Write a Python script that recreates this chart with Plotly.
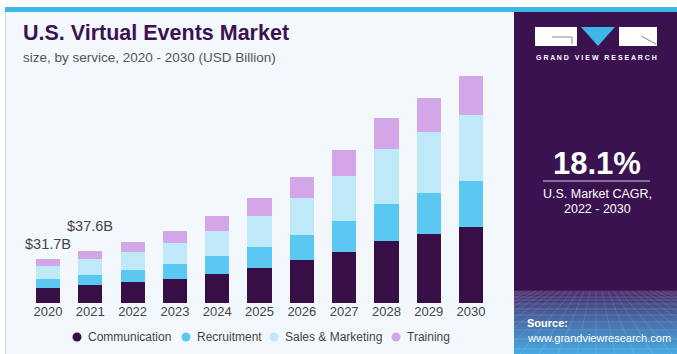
import plotly.graph_objects as go

# U.S. virtual events market size by service, USD billion
years = ["2020", "2021", "2022", "2023", "2024", "2025",
         "2026", "2027", "2028", "2029", "2030"]
communication = [10.9, 12.8, 15.0, 17.6, 21.0, 25.6, 30.9, 37.2, 44.9, 50.0, 54.9]
recruitment = [6.3, 7.2, 8.7, 10.4, 13.0, 15.2, 18.3, 22.2, 27.0, 29.9, 33.3]
sales_marketing = [9.6, 11.6, 13.3, 15.2, 18.3, 22.5, 27.0, 32.6, 39.9, 44.0, 48.3]
training = [4.9, 6.0, 7.2, 8.9, 10.9, 13.0, 15.2, 18.6, 22.5, 24.9, 27.8]

series_names = ["Communication", "Recruitment", "Sales & Marketing", "Training"]
series_values = [communication, recruitment, sales_marketing, training]
series_colors = ["#380e47", "#5ac8f2", "#bde9f8", "#d3a6e8"]

labelled_years = ["2020", "2021"]
cagr_text = "18.1%"

W, H = 677, 354
FONT = "Liberation Sans, Arial, sans-serif"


def px(x):
    return x / W


def py(y):
    return 1 - y / H


fig = go.Figure()

for name, vals, col in zip(series_names, series_values, series_colors):
    fig.add_trace(go.Bar(
        x=years, y=vals, name=name, marker=dict(color=col, line=dict(width=0)),
        showlegend=False, hoverinfo="x+y+name",
    ))

shapes = []
annotations = []

# page frame: light card, top stripe, left border
shapes.append(dict(type="rect", xref="paper", yref="paper", x0=px(5), x1=px(677),
                   y0=py(354), y1=py(7), fillcolor="#f3f8fc", line=dict(width=0), layer="below"))
shapes.append(dict(type="rect", xref="paper", yref="paper", x0=px(5), x1=px(6.2),
                   y0=py(354), y1=py(7), fillcolor="#d6dde3", line=dict(width=0), layer="below"))
shapes.append(dict(type="rect", xref="paper", yref="paper", x0=px(5), x1=px(677),
                   y0=py(12), y1=py(7), fillcolor="#3db7e8", line=dict(width=0), layer="below"))

# right side panel
shapes.append(dict(type="rect", xref="paper", yref="paper", x0=px(514), x1=px(677),
                   y0=py(354), y1=py(12), fillcolor="#3b1250", line=dict(width=0), layer="below"))

# gradient band at the bottom of the panel
top_c = (0x45, 0x22, 0x62)
bot_c = (0x48, 0xa8, 0xe0)
y_start, y_end = 290, 354
n = y_end - y_start
for i in range(n):
    t = i / (n - 1)
    t = t ** 0.8
    c = tuple(int(round(a + (b - a) * t)) for a, b in zip(top_c, bot_c))
    shapes.append(dict(type="rect", xref="paper", yref="paper", x0=px(514), x1=px(677),
                       y0=py(y_start + i + 1.2), y1=py(y_start + i),
                       fillcolor="rgb(%d,%d,%d)" % c, line=dict(width=0), layer="below"))

# perspective grid lines
grid_rows = [292, 294, 297, 300, 304, 309, 315, 322, 330, 339, 349]
for gy in grid_rows:
    shapes.append(dict(type="line", xref="paper", yref="paper", x0=px(514), x1=px(677),
                       y0=py(gy), y1=py(gy), line=dict(color="rgba(255,255,255,0.14)", width=1),
                       layer="below"))
vx = 596
for k in range(-14, 15):
    shapes.append(dict(type="line", xref="paper", yref="paper",
                       x0=px(vx + k * 6), x1=px(vx + k * 19),
                       y0=py(291), y1=py(354),
                       line=dict(color="rgba(255,255,255,0.11)", width=1), layer="below"))
# re-cover grid overflow left of the panel
shapes.append(dict(type="rect", xref="paper", yref="paper", x0=px(480), x1=px(514),
                   y0=py(354), y1=py(288), fillcolor="#f3f8fc", line=dict(width=0), layer="below"))

# logo
shapes.append(dict(type="rect", xref="paper", yref="paper", x0=px(535), x1=px(577),
                   y0=py(46), y1=py(27), fillcolor="#ffffff", line=dict(width=0)))
shapes.append(dict(type="path", xref="paper", yref="paper",
                   path="M %f,%f L %f,%f L %f,%f Z" % (px(581), py(27), px(615), py(27), px(598), py(46)),
                   fillcolor="#3db7e8", line=dict(width=0)))
shapes.append(dict(type="rect", xref="paper", yref="paper", x0=px(619), x1=px(657),
                   y0=py(46), y1=py(27), fillcolor="#ffffff", line=dict(width=0)))
shapes.append(dict(type="path", xref="paper", yref="paper",
                   path="M %f,%f L %f,%f L %f,%f" % (px(552), py(37), px(572), py(37), px(572), py(44)),
                   line=dict(color="#8a8494", width=1)))
shapes.append(dict(type="line", xref="paper", yref="paper", x0=px(641), x1=px(656),
                   y0=py(36), y1=py(44), line=dict(color="#8a8494", width=1)))
annotations.append(dict(xref="paper", yref="paper", x=px(596), y=py(57),
                        text="<b>G R A N D   V I E W   R E S E A R C H</b>",
                        showarrow=False, xanchor="center", yanchor="middle",
                        font=dict(family=FONT, size=7, color="#ffffff")))

# CAGR call-out
annotations.append(dict(xref="paper", yref="paper", x=px(597), y=py(163), text="<b>%s</b>" % cagr_text,
                        showarrow=False, xanchor="center", yanchor="middle",
                        font=dict(family=FONT, size=31, color="#ffffff")))
shapes.append(dict(type="line", xref="paper", yref="paper", x0=px(543), x1=px(650),
                   y0=py(181), y1=py(181), line=dict(color="#cfc6d8", width=1.2)))
annotations.append(dict(xref="paper", yref="paper", x=px(597), y=py(194), text="U.S. Market CAGR,",
                        showarrow=False, xanchor="center", yanchor="middle",
                        font=dict(family=FONT, size=12.5, color="#ffffff")))
annotations.append(dict(xref="paper", yref="paper", x=px(597), y=py(209), text="2022 - 2030",
                        showarrow=False, xanchor="center", yanchor="middle",
                        font=dict(family=FONT, size=12.5, color="#ffffff")))

# source
annotations.append(dict(xref="paper", yref="paper", x=px(525), y=py(323), text="<b>Source:</b>",
                        showarrow=False, xanchor="left", yanchor="middle",
                        font=dict(family=FONT, size=11, color="#ffffff")))
annotations.append(dict(xref="paper", yref="paper", x=px(525), y=py(338), text="www.grandviewresearch.com",
                        showarrow=False, xanchor="left", yanchor="middle",
                        font=dict(family=FONT, size=11, color="#ffffff")))

# titles
annotations.append(dict(xref="paper", yref="paper", x=px(21), y=py(33),
                        text="<b>U.S. Virtual Events Market</b>",
                        showarrow=False, xanchor="left", yanchor="middle",
                        font=dict(family=FONT, size=21.5, color="#3b1250")))
annotations.append(dict(xref="paper", yref="paper", x=px(21), y=py(57),
                        text="size, by service, 2020 - 2030 (USD Billion)",
                        showarrow=False, xanchor="left", yanchor="middle",
                        font=dict(family=FONT, size=13.5, color="#555555")))

# value labels above the first bars (category axis uses serial positions)
totals = [sum(v) for v in zip(*series_values)]
label_shift = {"2020": 5, "2021": 15}
for yr in labelled_years:
    i = years.index(yr)
    annotations.append(dict(x=i, y=totals[i], xref="x", yref="y",
                            text="$%.1fB" % totals[i], showarrow=False,
                            xanchor="center", yanchor="bottom", yshift=label_shift[yr],
                            font=dict(family=FONT, size=14.5, color="#444444")))

# legend with round markers
legend_x = [77, 186, 274, 396]
legend_y = 337
for name, col, lx in zip(series_names, series_colors, legend_x):
    shapes.append(dict(type="circle", xref="paper", yref="paper",
                       x0=px(lx - 4.5), x1=px(lx + 4.5), y0=py(legend_y + 4.5), y1=py(legend_y - 4.5),
                       fillcolor=col, line=dict(width=0)))
    annotations.append(dict(xref="paper", yref="paper", x=px(lx + 9), y=py(legend_y), text=name,
                            showarrow=False, xanchor="left", yanchor="middle",
                            font=dict(family=FONT, size=12, color="#444444")))

# plot area: categories ~42.3 px apart, baseline at y=303, ~1.38 px per billion
x_left, x_right = 26.85, 492.2
y_base, y_top = 303, 61.5
y_max = 175

fig.update_layout(
    width=W, height=H,
    margin=dict(l=0, r=0, t=0, b=0),
    paper_bgcolor="#ffffff",
    plot_bgcolor="rgba(0,0,0,0)",
    barmode="stack",
    bargap=0.43,
    showlegend=False,
    shapes=shapes,
    annotations=annotations,
    xaxis=dict(domain=[px(x_left), px(x_right)], type="category",
               range=[-0.5, len(years) - 0.5], autorange=False,
               showgrid=False, zeroline=False, showline=False,
               ticks="", ticklabelstandoff=-1,
               tickfont=dict(family=FONT, size=13, color="#444444")),
    yaxis=dict(domain=[py(y_base), py(y_top)], range=[0, y_max], autorange=False, visible=False),
)

fig.write_html("out.html")
